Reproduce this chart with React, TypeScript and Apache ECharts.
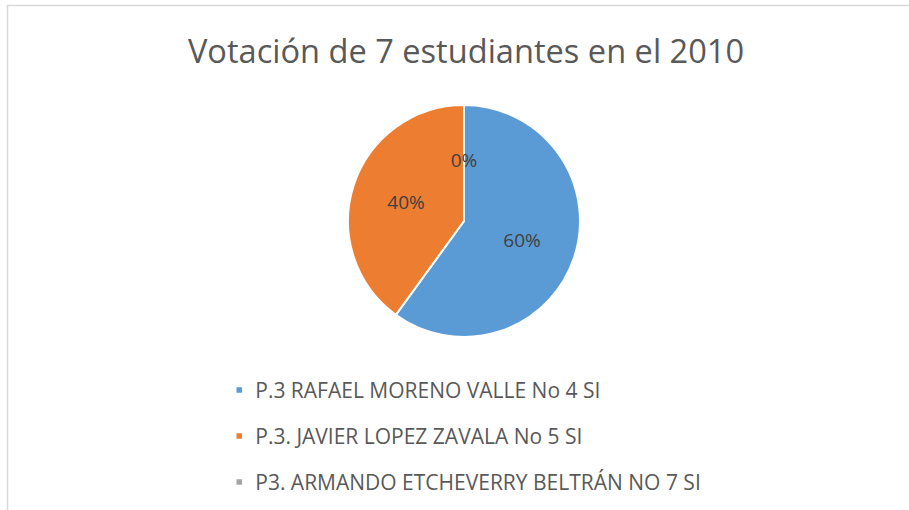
import React, { useEffect, useRef } from "react";
import * as echarts from "echarts";

const titleText = "Votación de 7 estudiantes en el 2010";
const categories = [
  "P.3 RAFAEL MORENO VALLE No 4 SI",
  "P.3. JAVIER LOPEZ ZAVALA No 5 SI",
  "P3. ARMANDO ETCHEVERRY BELTRÁN NO 7 SI",
];
const values = [3, 2, 0];
const colors = ["#5b9bd5", "#ed7d31", "#a5a5a5"];

export default function App() {
  const ref = useRef<HTMLDivElement>(null);
  useEffect(() => {
    if (!ref.current) return;
    const chart = echarts.init(ref.current, null, { renderer: "svg" });
    const font = "'Open Sans', sans-serif";
    chart.setOption({
      animation: false,
      backgroundColor: "#ffffff",
      color: colors,
      graphic: [
        { type: "line", shape: { x1: 7, y1: 5.5, x2: 909, y2: 5.5 }, style: { stroke: "#d9d9d9", lineWidth: 1.5 } },
        { type: "line", shape: { x1: 7.5, y1: 5, x2: 7.5, y2: 510 }, style: { stroke: "#d9d9d9", lineWidth: 1.5 } },
        {
          type: "text",
          x: 466,
          y: 50,
          style: {
            text: titleText,
            fill: "#595959",
            font: `32.6px ${font}`,
            align: "center",
            verticalAlign: "middle",
          },
        },
      ],
      legend: {
        orient: "vertical",
        left: 229.5,
        top: 374,
        icon: "path://M0,0H1V1H0Z",
        itemWidth: 16,
        itemHeight: 7.5,
        itemGap: 24,
        textStyle: {
          color: "#595959",
          fontSize: 21,
          fontFamily: font,
          lineHeight: 22,
          padding: [0, 0, 0, 3],
        },
        data: categories,
      },
      series: [
        {
          type: "pie",
          center: [464, 221],
          radius: 116,
          startAngle: 90,
          clockwise: true,
          itemStyle: { borderColor: "#ffffff", borderWidth: 2 },
          label: {
            show: true,
            position: "inside",
            formatter: "{d}%",
            color: "#404040",
            fontSize: 19,
            fontFamily: font,
          },
          labelLine: { show: false },
          emphasis: { disabled: true },
          data: categories.map((name, i) => ({ name, value: values[i] })),
        },
      ],
    });
    return () => chart.dispose();
  }, []);
  return (
    <div
      ref={ref}
      style={{ position: "fixed", left: 0, top: 0, width: 909, height: 510 }}
    />
  );
}
